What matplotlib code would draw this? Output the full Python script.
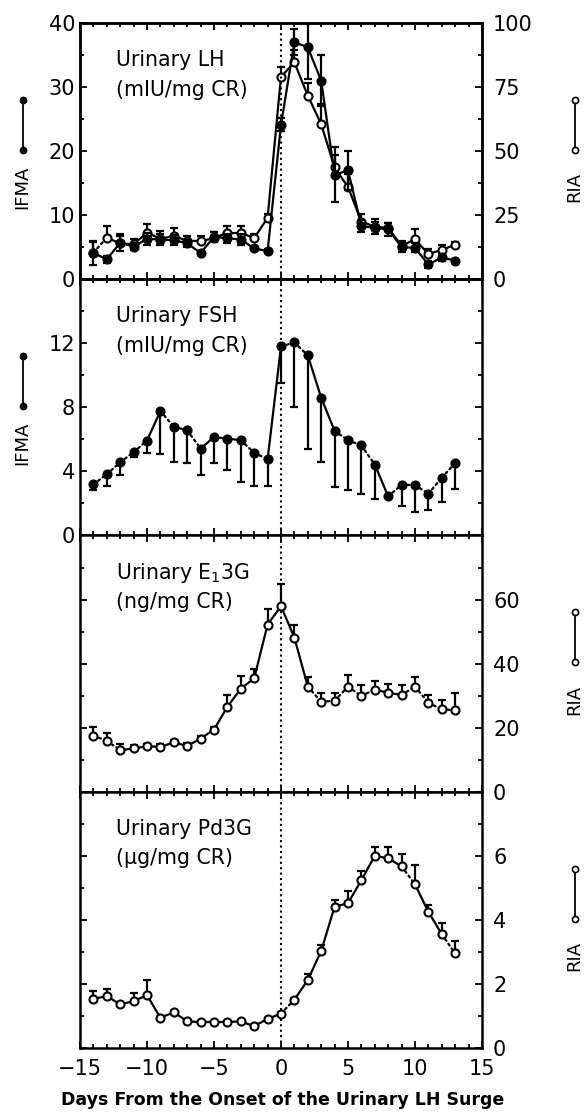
import numpy as np
import matplotlib
matplotlib.use("Agg")
import matplotlib.pyplot as plt
from matplotlib.ticker import MultipleLocator

plt.rcParams['font.family'] = ['DejaVu Sans']
plt.rcParams['axes.unicode_minus'] = True

days = list(range(-14, 14))

# urinary LH, IFMA (left axis) and RIA (right axis)
lh_ifma = [4.1, 3.1, 5.7, 5.1, 6.3, 6.2, 6.1, 5.6, 4.1, 6.6, 6.4, 6.2, 4.8, 4.4,
           24.1, 37.0, 36.2, 31.0, 16.3, 17.0, 8.3, 8.0, 7.8, 5.0, 4.9, 2.3, 3.4, 2.9]
lh_ifma_err = [1.9, 0.5, 1.3, 0.5, 0.9, 0.8, 0.8, 0.6, 0.3, 0.8, 0.7, 0.8, 0.3, 0.3,
               1.0, 2.0, 5.0, 4.0, 4.3, 3.0, 1.0, 1.0, 1.0, 0.8, 0.7, 0.5, 0.5, 0.3]
lh_ria = [10.4, 16.2, 14.0, 13.6, 18.2, 15.8, 16.9, 15.0, 14.9, 16.0, 18.2, 18.2, 16.0, 24.0,
          79.0, 84.6, 71.6, 60.5, 43.6, 36.0, 22.5, 20.5, 20.0, 13.0, 15.6, 9.8, 11.5, 13.4]
lh_ria_err = [4.0, 4.6, 3.0, 2.0, 3.5, 3.0, 3.0, 2.0, 2.0, 2.5, 2.5, 2.5, 1.5, 1.5,
              4.0, 5.0, 5.0, 8.0, 5.0, 5.0, 3.0, 3.0, 2.0, 2.0, 4.0, 2.0, 2.0, 1.0]

# urinary FSH, IFMA
fsh = [3.19, 3.82, 4.57, 5.2, 5.93, 7.77, 6.79, 6.56, 5.43, 6.14, 6.05, 5.95, 5.16, 4.76,
       11.8, 12.05, 11.25, 8.6, 6.53, 5.95, 5.62, 4.43, 2.44, 3.17, 3.15, 2.61, 3.61, 4.53]
fsh_low = [2.82, 3.07, 3.8, 4.9, 5.14, 5.1, 4.6, 4.55, 3.8, 4.5, 4.07, 3.34, 3.09, 3.07,
           9.5, 8.04, 5.43, 4.6, 3.03, 2.82, 2.57, 2.3, 2.44, 1.84, 1.46, 1.6, 2.09, 2.92]

# urinary E1-3G, RIA
e13g = [17.5, 15.9, 13.0, 13.5, 14.2, 14.0, 15.4, 14.3, 16.6, 19.4, 26.5, 32.2, 35.4, 52.2,
        57.9, 48.1, 32.8, 28.1, 28.4, 32.8, 29.9, 31.9, 30.9, 30.2, 32.8, 27.8, 25.7, 25.5]
e13g_high = [20.3, 18.2, 14.8, 14.5, 15.0, 14.8, 16.2, 15.2, 17.5, 20.3, 30.2, 36.1, 38.2, 57.0,
             65.0, 52.2, 35.9, 30.7, 30.7, 36.4, 33.3, 34.5, 33.6, 33.3, 35.9, 30.2, 28.6, 30.7]

# urinary Pd3G, RIA
pd3g = [1.53, 1.62, 1.36, 1.46, 1.65, 0.94, 1.12, 0.83, 0.81, 0.81, 0.81, 0.83, 0.68, 0.91,
        1.07, 1.51, 2.12, 3.03, 4.41, 4.52, 5.24, 6.0, 5.92, 5.67, 5.11, 4.25, 3.55, 2.95]
pd3g_high = [1.77, 1.83, 1.40, 1.72, 2.12, 0.98, 1.16, 0.87, 0.85, 0.85, 0.85, 0.87, 0.72, 0.95,
             1.11, 1.55, 2.3, 3.23, 4.62, 4.9, 5.51, 6.29, 6.29, 6.07, 5.71, 4.46, 3.91, 3.34]

# segments (index i joins day i and i+1) drawn with a dotted line
lh_ria_dotted = [0]
fsh_dotted = [0, 1, 2, 3, 5, 7, 11, 12, 14, 15, 18, 19, 20, 22, 23, 24, 25, 26]
e13g_dotted = [0, 1, 16, 17, 18, 19, 20, 23, 24, 25, 26]
pd3g_dotted = [14, 23, 26]

LW = 1.6
MS = 5.8
DOT = (0, (1.0, 1.6))
TICK_FS = 15
TITLE_FS = 14.8


def draw_series(ax, x, y, dotted, filled, z=3):
    for i in range(len(x) - 1):
        ls = DOT if i in dotted else '-'
        ax.plot(x[i:i + 2], y[i:i + 2], color='k', lw=LW, ls=ls, zorder=z,
                dash_capstyle='round')
    ax.plot(x, y, ls='none', marker='o', ms=MS, mew=1.5, mec='k',
            mfc='k' if filled else 'white', zorder=z + 1)


def err(ax, x, y, lo, hi, z=2):
    ax.errorbar(x, y, yerr=[lo, hi], fmt='none', ecolor='k', elinewidth=LW,
                capsize=2.6, capthick=LW, zorder=z)


def style_axis(ax):
    for s in ax.spines.values():
        s.set_linewidth(1.8)
    ax.set_xlim(-15, 15)
    ax.xaxis.set_major_locator(MultipleLocator(5))
    ax.xaxis.set_minor_locator(MultipleLocator(1))
    ax.tick_params(which='both', direction='in', top=True, bottom=True,
                   left=True, right=True, width=1.3, labelsize=TICK_FS)
    ax.tick_params(which='major', length=5)
    ax.tick_params(which='minor', length=2.6)
    ax.axvline(0, color='k', lw=1.5, ls=DOT, zorder=1)


def side_label(ax, name, xpos, filled):
    ax.text(xpos, 0.36, name, transform=ax.transAxes, rotation=90,
            ha='center', va='center', fontsize=13)
    ax.plot([xpos + 0.002, xpos + 0.002], [0.505, 0.70], transform=ax.transAxes,
            color='k', lw=1.3, marker='o', ms=4.4, mew=1.2, mec='k',
            mfc='k' if filled else 'white', clip_on=False)


def panel_title(ax, line1, line2):
    ax.text(0.09, 0.855, line1, transform=ax.transAxes, fontsize=TITLE_FS,
            ha='left', va='center')
    ax.text(0.09, 0.74, line2, transform=ax.transAxes, fontsize=TITLE_FS,
            ha='left', va='center')


fig, axes = plt.subplots(4, 1, sharex=True, figsize=(5.87, 11.15), dpi=100)
plt.subplots_adjust(left=0.1363, right=0.8211, bottom=0.0601, top=0.9794, hspace=0)
ax1, ax2, ax3, ax4 = axes
for ax in axes:
    style_axis(ax)

# LH
ax1.set_ylim(0, 40)
ax1.yaxis.set_major_locator(MultipleLocator(10))
ax1.yaxis.set_minor_locator(MultipleLocator(5))
ax1.tick_params(axis='y', which='both', right=False)
ax1r = ax1.twinx()
ax1r.set_ylim(0, 100)
ax1r.yaxis.set_major_locator(MultipleLocator(25))
ax1r.yaxis.set_minor_locator(MultipleLocator(12.5))
ax1r.tick_params(which='both', direction='in', width=1.3, labelsize=TICK_FS, pad=8)
ax1r.tick_params(which='major', length=5)
ax1r.tick_params(which='minor', length=2.6)
for s in ax1r.spines.values():
    s.set_linewidth(1.8)
err(ax1r, days, lh_ria, [0] * len(days), lh_ria_err, z=2)
draw_series(ax1r, days, lh_ria, lh_ria_dotted, False, z=3)
err(ax1, days, lh_ifma, lh_ifma_err, lh_ifma_err, z=2)
ax1.set_zorder(ax1r.get_zorder() + 1)
ax1.patch.set_visible(False)
draw_series(ax1, days, lh_ifma, [], True, z=3)
panel_title(ax1, 'Urinary LH', '(mIU/mg CR)')
side_label(ax1, 'IFMA', -0.144, True)
side_label(ax1, 'RIA', 1.229, False)

# FSH
ax2.set_ylim(0, 16)
ax2.yaxis.set_minor_locator(MultipleLocator(2))
ax2.set_yticks([0, 4, 8, 12])
err(ax2, days, fsh, np.array(fsh) - np.array(fsh_low), [0] * len(days))
draw_series(ax2, days, fsh, fsh_dotted, True)
panel_title(ax2, 'Urinary FSH', '(mIU/mg CR)')
side_label(ax2, 'IFMA', -0.144, True)

# E1-3G
ax3.set_ylim(0, 80)
ax3.set_yticks([0, 20, 40, 60])
ax3.yaxis.set_minor_locator(MultipleLocator(10))
ax3.tick_params(axis='y', labelleft=False, labelright=True, pad=8)
err(ax3, days, e13g, [0] * len(days), np.array(e13g_high) - np.array(e13g))
draw_series(ax3, days, e13g, e13g_dotted, False)
panel_title(ax3, 'Urinary E$_1$3G', '(ng/mg CR)')
side_label(ax3, 'RIA', 1.229, False)

# Pd3G
ax4.set_ylim(0, 8)
ax4.set_yticks([0, 2, 4, 6])
ax4.yaxis.set_minor_locator(MultipleLocator(1))
ax4.tick_params(axis='y', labelleft=False, labelright=True, pad=8)
ax4.tick_params(axis='x', pad=8)
err(ax4, days, pd3g, [0] * len(days), np.array(pd3g_high) - np.array(pd3g))
draw_series(ax4, days, pd3g, pd3g_dotted, False)
panel_title(ax4, 'Urinary Pd3G', '(\u03bcg/mg CR)')
side_label(ax4, 'RIA', 1.229, False)

fig.text(0.482, 0.005, 'Days From the Onset of the Urinary LH Surge',
         ha='center', va='bottom', fontsize=12.5, fontweight='bold')

fig.savefig('out.png', dpi=100)
